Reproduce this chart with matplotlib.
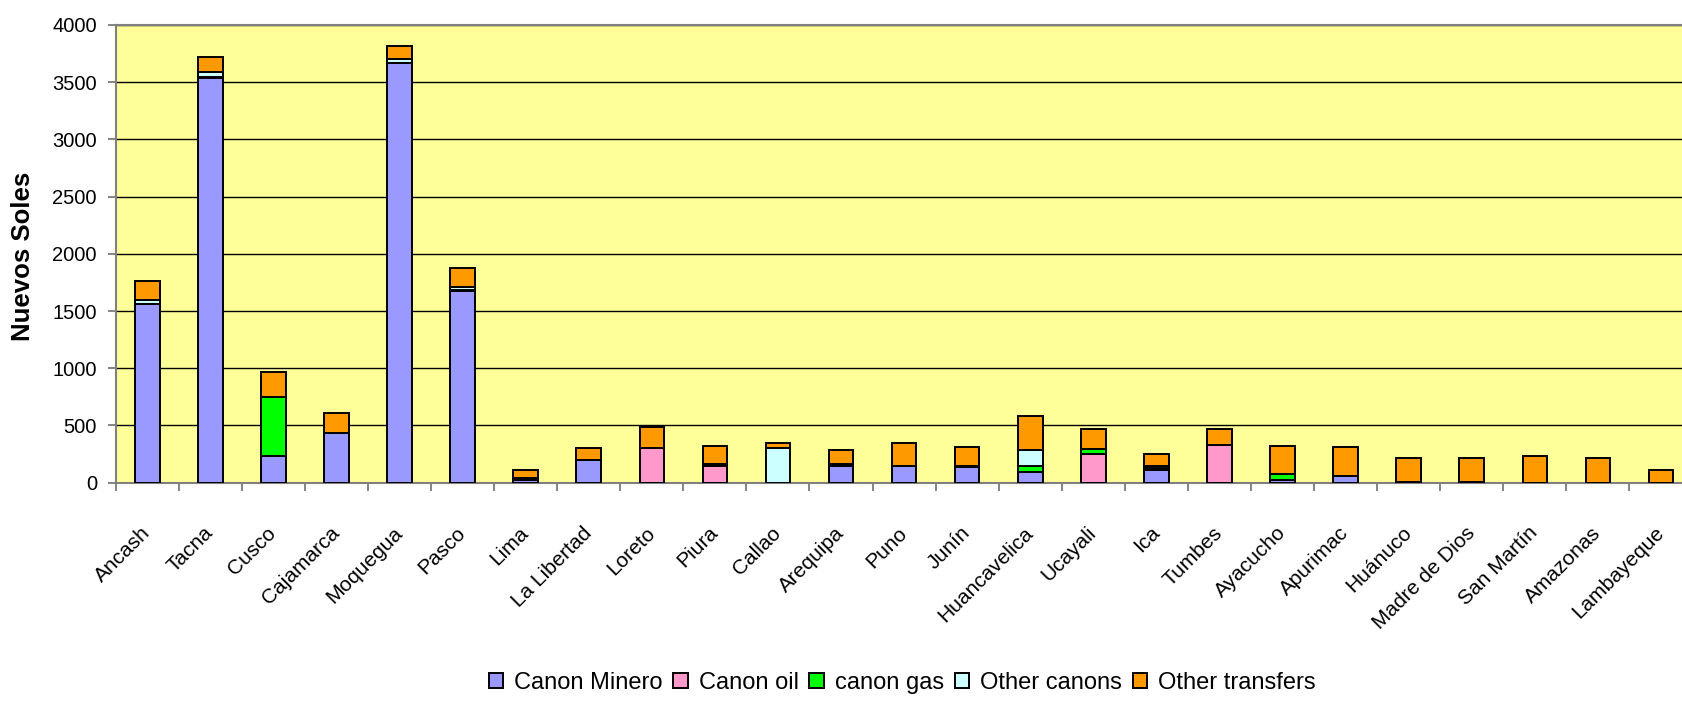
import matplotlib.pyplot as plt
import numpy as np

# regions and transfer components (millions of Nuevos Soles)
regions = ['Ancash', 'Tacna', 'Cusco', 'Cajamarca', 'Moquegua', 'Pasco', 'Lima',
           'La Libertad', 'Loreto', 'Piura', 'Callao', 'Arequipa', 'Puno', 'Junín',
           'Huancavelica', 'Ucayali', 'Ica', 'Tumbes', 'Ayacucho', 'Apurimac',
           'Huánuco', 'Madre de Dios', 'San Martín', 'Amazonas', 'Lambayeque']
canon_minero = [1560, 3540, 235, 435, 3665, 1675, 25, 200, 0, 0, 0, 145, 145, 135,
                95, 0, 110, 0, 25, 60, 10, 10, 0, 0, 0]
canon_oil = [0, 0, 0, 0, 0, 0, 0, 0, 300, 145, 0, 0, 0, 0,
             0, 250, 0, 330, 0, 0, 0, 0, 0, 0, 0]
canon_gas = [5, 5, 515, 0, 5, 5, 10, 0, 0, 10, 0, 10, 0, 10,
             50, 45, 15, 0, 50, 0, 0, 0, 0, 0, 0]
other_canons = [30, 40, 0, 0, 30, 30, 10, 0, 0, 10, 300, 10, 0, 5,
                140, 0, 20, 0, 0, 0, 0, 0, 0, 0, 0]
other_transfers = [170, 135, 220, 170, 120, 170, 70, 105, 185, 155, 50, 125, 205, 165,
                   300, 175, 105, 140, 245, 255, 210, 210, 235, 218, 115]

series = [('Canon Minero', canon_minero, '#9999FF'),
          ('Canon oil', canon_oil, '#FF99CC'),
          ('canon gas', canon_gas, '#00FF00'),
          ('Other canons', other_canons, '#CCFFFF'),
          ('Other transfers', other_transfers, '#FF9900')]

plt.rcParams['font.family'] = ['Liberation Sans', 'DejaVu Sans']

fig = plt.figure(figsize=(16.83, 7.02), dpi=100)
# plot area runs slightly past the right edge of the canvas
ax = fig.add_axes([115.7/1683, 1 - 482.7/702, 1576.8/1683, 457.7/702])
ax.set_facecolor('#FFFF99')

x = np.arange(len(regions))
bottom = np.zeros(len(regions))
for name, vals, col in series:
    vals = np.array(vals, dtype=float)
    ax.bar(x, vals, 0.39, bottom=bottom, color=col, edgecolor='black',
           linewidth=1.4, label=name, zorder=3)
    bottom += vals

ax.set_xlim(-0.5, len(regions) - 0.5)
ax.set_ylim(0, 4000)
ax.set_yticks(np.arange(0, 4001, 500))
ax.yaxis.grid(True, color='black', linewidth=1.0, zorder=1)
ax.set_axisbelow(True)

# category labels at centres, tick marks at the boundaries
ax.set_xticks(x)
ax.set_xticklabels(regions, rotation=45, ha='right', va='center',
                   rotation_mode='anchor', fontsize=15)
ax.tick_params(axis='x', which='major', length=0, pad=34)
ax.set_xticks(np.arange(-0.5, len(regions)), minor=True)
ax.tick_params(axis='x', which='minor', length=5.5, width=1.2, color='#707070')
ax.tick_params(axis='y', length=5.5, width=1.2, color='#707070', pad=8, labelsize=14.5)

for s in ['left', 'bottom', 'top']:
    ax.spines[s].set_color('#808080')
    ax.spines[s].set_linewidth(1.5)
ax.spines['right'].set_visible(False)

ax.set_ylabel('Nuevos Soles', fontsize=18.5, fontweight='bold')
ax.yaxis.set_label_coords(-0.051, 0.494)

fig.legend(loc='center', bbox_to_anchor=(0.536, 0.027), ncol=5, frameon=False,
           fontsize=17, handlelength=0.63, handleheight=0.63, handletextpad=0.45,
           columnspacing=0.45, borderaxespad=0)

fig.savefig('out.png', dpi=100)
